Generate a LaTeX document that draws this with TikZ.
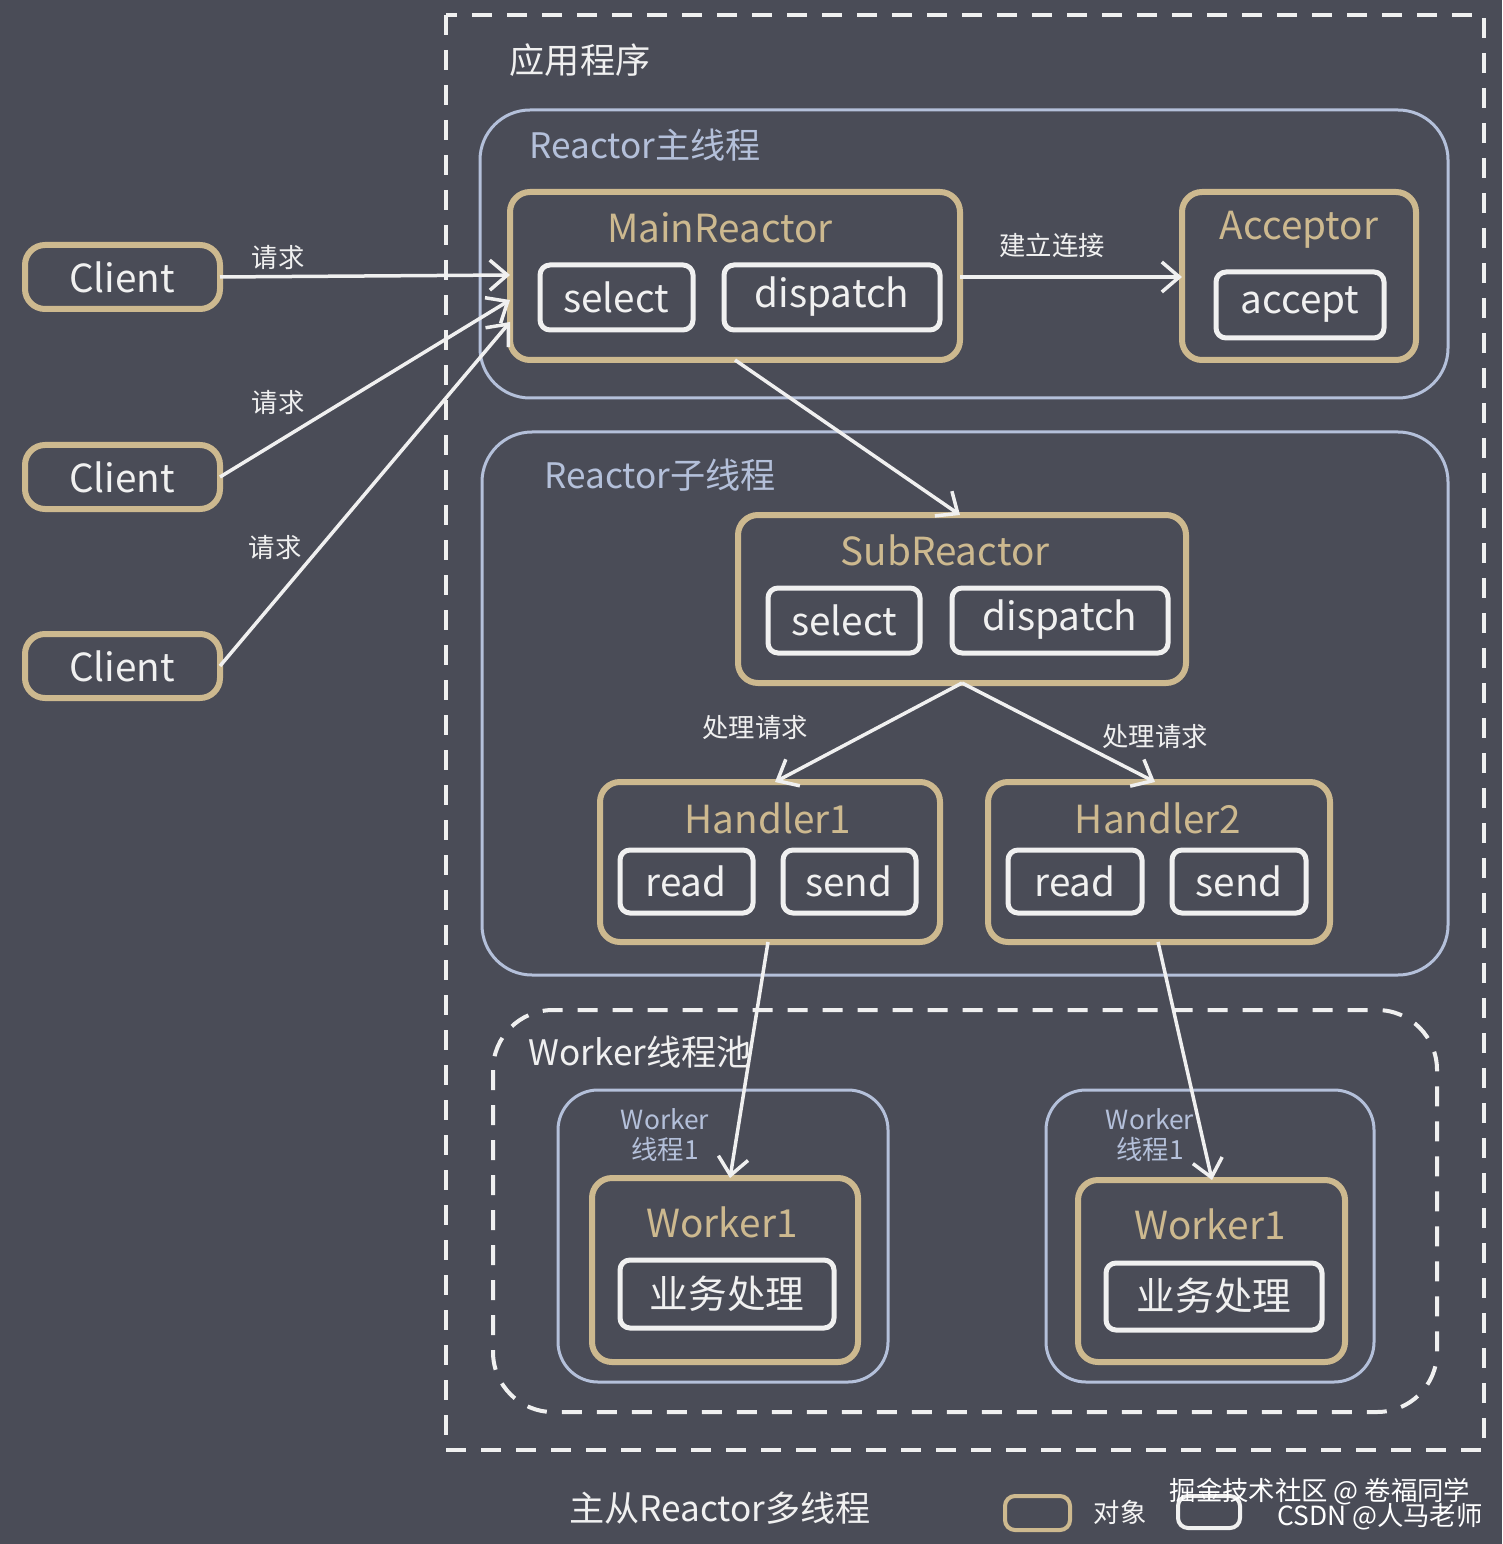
\documentclass[tikz,border=0pt]{standalone}
\usepackage{fontspec}
\setmainfont{Noto Sans CJK SC}
\usepackage{tikz}
\usetikzlibrary{arrows.meta}
\definecolor{bgc}{HTML}{4A4C57}
\definecolor{gold}{HTML}{CDB98F}
\definecolor{lblue}{HTML}{B4C0DA}
\definecolor{wtxt}{HTML}{F0F0F0}
\tikzset{
	obj/.style={draw=gold, line width=1.2mm, rounded corners=4mm},
	thr/.style={draw=lblue, line width=0.6mm, rounded corners=10mm},
	fn/.style={draw=wtxt, line width=1mm, rounded corners=2mm},
	arr/.style={draw=wtxt, line width=0.7mm, -{Straight Barb[length=3.5mm, width=6mm, line width=0.7mm]}},
	big/.style={font=\fontsize{22}{26}\selectfont},
	mid/.style={font=\fontsize{20}{24}\selectfont},
	sml/.style={font=\fontsize{15}{18}\selectfont},
}
\begin{document}
\begin{tikzpicture}[x=0.2mm,y=-0.2mm]
	\fill[bgc] (0,0) rectangle (1502,1544);
	\useasboundingbox (0,0) rectangle (1502,1544);

	\draw[wtxt, line width=0.8mm, dash pattern=on 4mm off 3mm] (446,15) rectangle (1484,1450);
	\path (580,60) node[mid, text=wtxt] (app) {应用程序};

	% Reactor main thread
	\draw[thr] (480,110) rectangle (1448,398);
	\path (645,145) node[mid, text=lblue] (mainlbl) {Reactor主线程};
	\draw[obj] (510,192) rectangle (960,360);
	\path (720,228) node[big, text=gold] (mr) {MainReactor};
	\draw[fn] (540,265) rectangle (693,330);
	\path (616,297) node[big, text=wtxt] (msel) {select};
	\draw[fn] (724,265) rectangle (940,330);
	\path (832,297) node[big, text=wtxt] (mdis) {dispatch};
	\coordinate (mrL1) at (510,275);
	\coordinate (mrL2) at (510,300);
	\coordinate (mrL3) at (510,322);
	\coordinate (mrR) at (960,277);
	\coordinate (mrB) at (735,360);

	\draw[obj] (1182,192) rectangle (1416,360);
	\path (1299,230) node[big, text=gold] (acc) {Acceptor};
	\draw[fn] (1216,272) rectangle (1384,338);
	\path (1300,304) node[big, text=wtxt] (acpt) {accept};
	\coordinate (accL) at (1182,277);
	\draw[arr] (mrR) -- (accL);
	\path (1052,245) node[sml, text=wtxt] (conn) {建立连接};

	% clients
	\foreach \n/\y in {1/277, 2/477, 3/666} {
		\draw[obj] (25,\y-32) rectangle (220,\y+32);
		\path (122,\y) node[big, text=wtxt] (c\n) {Client};
		\coordinate (cR\n) at (220,\y);
	}
	\draw[arr] (cR1) -- (mrL1);
	\draw[arr] (cR2) -- (mrL2);
	\draw[arr] (cR3) -- (mrL3);
	\path (278,258) node[sml, text=wtxt] (q1) {请求};
	\path (278,403) node[sml, text=wtxt] (q2) {请求};
	\path (275,548) node[sml, text=wtxt] (q3) {请求};

	% Reactor sub thread
	\draw[thr] (482,432) rectangle (1448,975);
	\path (660,475) node[mid, text=lblue] (sublbl) {Reactor子线程};
	\draw[obj] (738,515) rectangle (1186,683);
	\path (945,550) node[big, text=gold] (sr) {SubReactor};
	\draw[fn] (768,588) rectangle (920,653);
	\path (844,620) node[big, text=wtxt] (ssel) {select};
	\draw[fn] (952,588) rectangle (1168,653);
	\path (1060,620) node[big, text=wtxt] (sdis) {dispatch};
	\coordinate (srT) at (960,515);
	\coordinate (srB) at (962,683);
	\draw[arr] (mrB) -- (srT);

	\draw[obj] (600,782) rectangle (940,942);
	\path (768,818) node[big, text=gold] (h1) {Handler1};
	\draw[fn] (620,850) rectangle (753,913);
	\path (686,881) node[big, text=wtxt] (h1r) {read};
	\draw[fn] (783,850) rectangle (916,913);
	\path (849,881) node[big, text=wtxt] (h1s) {send};
	\draw[obj] (988,782) rectangle (1330,942);
	\path (1158,818) node[big, text=gold] (h2) {Handler2};
	\draw[fn] (1008,850) rectangle (1142,913);
	\path (1075,881) node[big, text=wtxt] (h2r) {read};
	\draw[fn] (1172,850) rectangle (1306,913);
	\path (1239,881) node[big, text=wtxt] (h2s) {send};
	\coordinate (h1T) at (775,782);
	\coordinate (h2T) at (1155,782);
	\coordinate (h1B) at (768,942);
	\coordinate (h2B) at (1158,942);
	\draw[arr] (srB) -- (h1T);
	\draw[arr] (srB) -- (h2T);
	\path (755,728) node[sml, text=wtxt] (p1) {处理请求};
	\path (1155,737) node[sml, text=wtxt] (p2) {处理请求};

	% worker pool
	\draw[wtxt, line width=0.8mm, dash pattern=on 4mm off 3mm, rounded corners=12mm] (493,1010) rectangle (1437,1412);
	\path (640,1052) node[mid, text=wtxt] (pool) {Worker线程池};
	\draw[thr, rounded corners=8mm] (558,1090) rectangle (888,1382);
	\draw[thr, rounded corners=8mm] (1046,1090) rectangle (1374,1382);
	\path (665,1135) node[text=lblue, align=center, font=\fontsize{15}{17}\selectfont] (wt1) {Worker\\线程1};
	\path (1150,1135) node[text=lblue, align=center, font=\fontsize{15}{17}\selectfont] (wt2) {Worker\\线程1};
	\draw[obj] (592,1178) rectangle (858,1362);
	\path (722,1222) node[big, text=gold] (w1) {Worker1};
	\draw[fn] (620,1260) rectangle (834,1328);
	\path (727,1294) node[big, text=wtxt] (b1) {业务处理};
	\draw[obj] (1078,1180) rectangle (1345,1362);
	\path (1210,1224) node[big, text=gold] (w2) {Worker1};
	\draw[fn] (1106,1263) rectangle (1322,1330);
	\path (1214,1296) node[big, text=wtxt] (b2) {业务处理};
	\coordinate (w1T) at (730,1178);
	\coordinate (w2T) at (1212,1180);
	\draw[arr] (h1B) -- (w1T);
	\draw[arr] (h2B) -- (w2T);

	% caption and legend
	\path (720,1508) node[mid, text=wtxt] (cap) {主从Reactor多线程};
	\draw[obj, rounded corners=2mm, line width=0.8mm] (1005,1496) rectangle (1070,1530);
	\path (1120,1512) node[sml, text=wtxt!75] (lg1) {对象};
	\draw[fn, line width=0.8mm] (1178,1496) rectangle (1240,1528);
	\path (1320,1492) node[sml, text=white] (wm1) {掘金技术社区 @ 卷福同学};
	\path (1380,1517) node[sml, text=white] (wm2) {CSDN @人马老师};
\end{tikzpicture}
\end{document}
